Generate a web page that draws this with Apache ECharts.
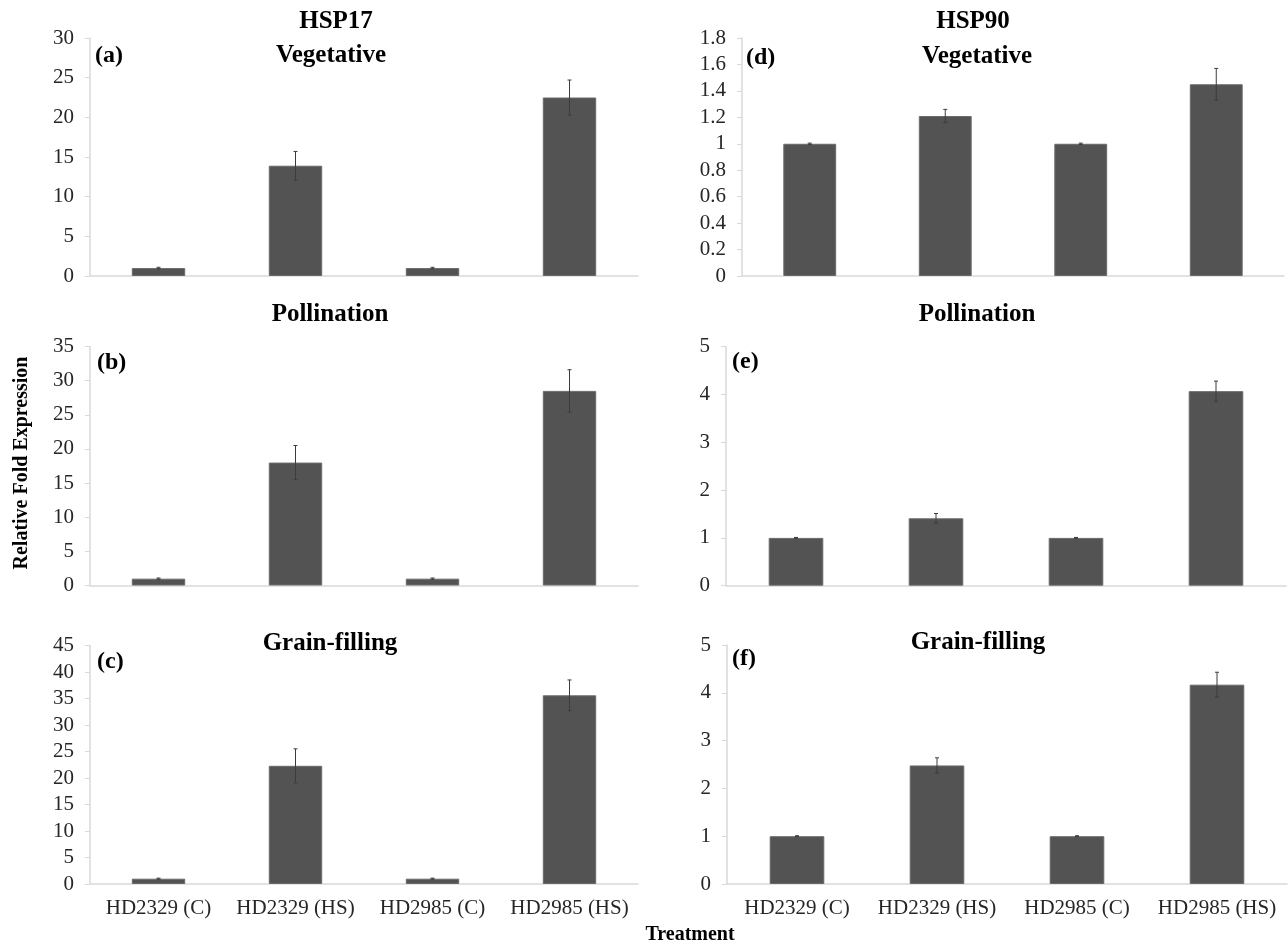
<!DOCTYPE html>
<html>
<head>
<meta charset="utf-8">
<title>HSP17 and HSP90 relative fold expression</title>
<script src="https://cdn.jsdelivr.net/npm/echarts@6/dist/echarts.min.js"></script>
<style>
  html, body { margin: 0; padding: 0; background: #ffffff; }
  #chart { width: 1288px; height: 945px; }
</style>
</head>
<body>
<div id="chart"></div>
<script>
// Treatments on the category axis
const treatments = ['HD2329 (C)', 'HD2329 (HS)', 'HD2985 (C)', 'HD2985 (HS)'];

// HSP17 relative fold expression (mean) and standard error
const hsp17Vegetative = [1, 13.9, 1, 22.5];
const hsp17VegetativeErr = [0.1, 1.8, 0.1, 2.2];
const hsp17Pollination = [1, 18.0, 1, 28.5];
const hsp17PollinationErr = [0.1, 2.5, 0.1, 3.1];
const hsp17GrainFilling = [1, 22.3, 1, 35.6];
const hsp17GrainFillingErr = [0.1, 3.2, 0.1, 2.9];

// HSP90 relative fold expression (mean) and standard error
const hsp90Vegetative = [1, 1.21, 1, 1.45];
const hsp90VegetativeErr = [0.005, 0.05, 0.005, 0.12];
const hsp90Pollination = [1, 1.41, 1, 4.07];
const hsp90PollinationErr = [0.01, 0.1, 0.01, 0.21];
const hsp90GrainFilling = [1, 2.48, 1, 4.17];
const hsp90GrainFillingErr = [0.01, 0.16, 0.01, 0.26];

// Y-axis ranges for each panel: [max, interval]
const yRanges = [[30, 5], [35, 5], [45, 5], [1.8, 0.2], [5, 1], [5, 1]];

const panels = [
  { vals: hsp17Vegetative, errs: hsp17VegetativeErr, grid: { left: 90, width: 548, top: 38, height: 238 }, showX: false },
  { vals: hsp17Pollination, errs: hsp17PollinationErr, grid: { left: 90, width: 548, top: 346.5, height: 239 }, showX: false },
  { vals: hsp17GrainFilling, errs: hsp17GrainFillingErr, grid: { left: 90, width: 548, top: 645.5, height: 238.5 }, showX: true },
  { vals: hsp90Vegetative, errs: hsp90VegetativeErr, grid: { left: 742, width: 542, top: 38, height: 238 }, showX: false },
  { vals: hsp90Pollination, errs: hsp90PollinationErr, grid: { left: 726, width: 560, top: 346.7, height: 239 }, showX: false },
  { vals: hsp90GrainFilling, errs: hsp90GrainFillingErr, grid: { left: 727, width: 560, top: 645, height: 239 }, showX: true }
];

const FONT = "'Liberation Serif', 'Times New Roman', serif";
const AXIS_GREY = '#d9d9d9';
const BAR_COLOR = '#535353';

function renderErrorBar(params, api) {
  const x = api.value(0);
  const v = api.value(1);
  const e = api.value(2);
  const hi = api.coord([x, v + e]);
  const lo = api.coord([x, v - e]);
  const cap = 2;
  const style = { stroke: '#3c3c3c', lineWidth: 1 };
  return {
    type: 'group',
    children: [
      { type: 'line', shape: { x1: hi[0], y1: hi[1], x2: lo[0], y2: lo[1] }, style: style },
      { type: 'line', shape: { x1: hi[0] - cap, y1: hi[1], x2: hi[0] + cap, y2: hi[1] }, style: style },
      { type: 'line', shape: { x1: lo[0] - cap, y1: lo[1], x2: lo[0] + cap, y2: lo[1] }, style: style }
    ]
  };
}

const grids = [], xAxes = [], yAxes = [], series = [];
panels.forEach((p, i) => {
  grids.push(Object.assign({ containLabel: false }, p.grid));
  xAxes.push({
    type: 'category',
    gridIndex: i,
    data: treatments,
    axisLine: { show: true, lineStyle: { color: AXIS_GREY, width: 1.5 } },
    axisTick: { show: false },
    axisLabel: {
      show: p.showX,
      color: '#262626',
      fontFamily: FONT,
      fontSize: 21,
      margin: 14,
      interval: 0
    },
    splitLine: { show: false }
  });
  yAxes.push({
    type: 'value',
    gridIndex: i,
    min: 0,
    max: yRanges[i][0],
    interval: yRanges[i][1],
    axisLine: { show: true, lineStyle: { color: AXIS_GREY, width: 1.5 } },
    axisTick: { show: true, inside: false, length: 5, lineStyle: { color: AXIS_GREY } },
    axisLabel: { color: '#262626', fontFamily: FONT, fontSize: 21, margin: 16 },
    splitLine: { show: false }
  });
  series.push({
    type: 'bar',
    xAxisIndex: i,
    yAxisIndex: i,
    data: p.vals,
    barWidth: '39%',
    itemStyle: { color: BAR_COLOR, borderColor: '#6a6a6a', borderWidth: 1 },
    silent: true,
    animation: false
  });
  series.push({
    type: 'custom',
    xAxisIndex: i,
    yAxisIndex: i,
    renderItem: renderErrorBar,
    data: p.vals.map((v, k) => [k, v, p.errs[k]]),
    encode: { x: 0, y: [1, 2] },
    z: 10,
    silent: true,
    animation: false
  });
});

// Panel titles, panel letters and shared axis names
function txt(text, x, y, size, align, extra) {
  return Object.assign({
    type: 'text',
    x: x,
    y: y,
    style: {
      text: text,
      fontFamily: FONT,
      fontSize: size,
      fontWeight: 'bold',
      fill: '#000000',
      align: align,
      verticalAlign: 'middle'
    }
  }, extra || {});
}

const graphics = [
  txt('HSP17', 336, 22, 25, 'center'),
  txt('HSP90', 973, 22, 25, 'center'),
  txt('Vegetative', 331, 56, 25, 'center'),
  txt('Vegetative', 977, 57, 25, 'center'),
  txt('Pollination', 330, 315, 25, 'center'),
  txt('Pollination', 977, 315, 25, 'center'),
  txt('Grain-filling', 330, 644, 25, 'center'),
  txt('Grain-filling', 978, 643, 25, 'center'),
  txt('(a)', 95, 56, 24, 'left'),
  txt('(b)', 97, 363, 24, 'left'),
  txt('(c)', 97, 662, 24, 'left'),
  txt('(d)', 746, 58, 24, 'left'),
  txt('(e)', 732, 362, 24, 'left'),
  txt('(f)', 732, 659, 24, 'left'),
  txt('Treatment', 690, 935, 20, 'center'),
  txt('Relative Fold Expression', 22, 463, 20, 'center', { rotation: Math.PI / 2 })
];

const chart = echarts.init(document.getElementById('chart'), null, { renderer: 'canvas' });
chart.setOption({
  backgroundColor: '#ffffff',
  animation: false,
  grid: grids,
  xAxis: xAxes,
  yAxis: yAxes,
  series: series,
  graphic: graphics
});
</script>
</body>
</html>
